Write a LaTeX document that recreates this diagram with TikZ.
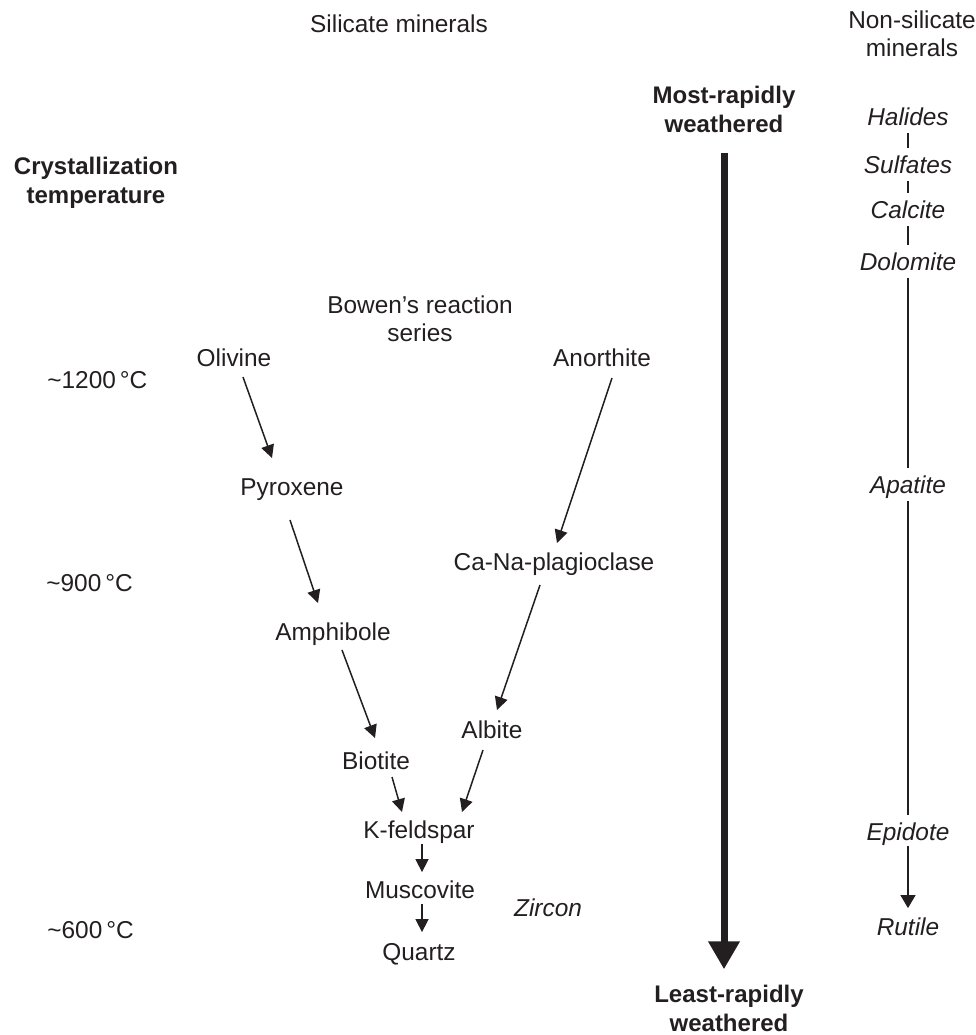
\documentclass[tikz,border=0pt]{standalone}
\usepackage{fontspec}
\setmainfont{Liberation Sans}
\usetikzlibrary{arrows.meta, calc, positioning}
\definecolor{ink}{RGB}{35,31,32}

\begin{document}
\begin{tikzpicture}[
    x=0.5pt, y=-0.5pt,
    every node/.style={text=ink, font=\fontsize{12.2}{14}\selectfont},
    mineral/.style={inner sep=0pt, text height=9pt, text depth=2.5pt},
    nonsil/.style={mineral, font=\fontsize{12.2}{14}\selectfont\itshape},
    heading/.style={align=center, inner sep=0pt},
    rate/.style={heading, font=\fontsize{12}{14.5}\selectfont\bfseries},
    temp/.style={mineral, anchor=west},
    arr/.style={draw=ink, line width=0.75pt, -{Triangle[length=6.5pt, width=6.5pt]}},
    link/.style={draw=ink, line width=0.55pt, shorten <=1pt, shorten >=3.5pt},
    bigarr/.style={draw=ink, line width=3.5pt, -{Triangle[length=14pt, width=15pt]}}
]
    \useasboundingbox (0,0) rectangle (976,1035);

    %% HEADINGS
    \node (silicate) at (399,24) {Silicate minerals};
    \node [heading] (nonsilicate) at (912,34) {Non-silicate\\minerals};
    \node [rate] (mostrapid) at (724,109) {Most-rapidly\\weathered};
    \node [rate] (leastrapid) at (729,1008) {Least-rapidly\\weathered};
    \node [rate] (crystemp) at (96,183) {Crystallization\\temperature};
    \node [heading] (bowen) at (420,319) {Bowen’s reaction\\series};

    % Temperatures
    \node [temp] (t1200) at (47,382) {\textasciitilde1200\,°C};
    \node [temp] (t900) at (46,585) {\textasciitilde900\,°C};
    \node [temp] (t600) at (47,932) {\textasciitilde600\,°C};

    %% BOWEN'S REACTION SERIES
    \node [mineral] (olivine) at (234,360) {Olivine};
    \node [mineral] (pyroxene) at (292,489) {Pyroxene};
    \node [mineral] (amphibole) at (333,634) {Amphibole};
    \node [mineral] (biotite) at (376,763) {Biotite};
    \node [mineral] (anorthite) at (602,360) {Anorthite};
    \node [mineral] (plagioclase) at (554,564) {Ca-Na-plagioclase};
    \node [mineral] (albite) at (492,732) {Albite};
    \node [mineral] (kfeldspar) at (419,832) {K-feldspar};
    \node [mineral] (muscovite) at (420,892) {Muscovite};
    \node [mineral] (quartz) at (419,954) {Quartz};
    \node [nonsil] (zircon) at (548,910) {Zircon};

    % Discontinuous branch
    \draw [arr] ($(olivine)+(9,17)$) -- ($(pyroxene)+(-20,-31)$);
    \draw [arr] ($(pyroxene)+(-2,31)$) -- ($(amphibole)+(-15,-31)$);
    \draw [arr] ($(amphibole)+(9,16)$) -- ($(biotite)+(-1,-25)$);
    \draw [arr] ($(biotite)+(16,14)$) -- ($(kfeldspar)+(-17,-20)$);

    % Continuous branch
    \draw [arr] ($(anorthite)+(10,18)$) -- ($(plagioclase)+(3,-21)$);
    \draw [arr] ($(plagioclase)+(-14,21)$) -- ($(albite)+(5,-22)$);
    \draw [arr] ($(albite)+(-9,18)$) -- ($(kfeldspar)+(43,-20)$);

    % Common tail
    \draw [arr, shorten >=4pt] ([xshift=1.5pt]kfeldspar.south) -- ([xshift=1pt]muscovite.north);
    \draw [arr, shorten >=5pt] ([xshift=1pt]muscovite.south) -- ([xshift=1.5pt]quartz.north);

    %% WEATHERING
    \draw [bigarr, shorten <=10pt, shorten >=7.5pt] (mostrapid.south) -- (mostrapid.south |- leastrapid.north);

    %% NON-SILICATE MINERALS
    \node [nonsil] (halides) at (908,119) {Halides};
    \node [nonsil] (sulfates) at (908,167) {Sulfates};
    \node [nonsil] (calcite) at (908,212) {Calcite};
    \node [nonsil] (dolomite) at (908,264) {Dolomite};
    \node [nonsil] (apatite) at (908,487) {Apatite};
    \node [nonsil] (epidote) at (908,834) {Epidote};
    \node [nonsil] (rutile) at (908,929) {Rutile};

    \draw [link] (halides) -- (sulfates);
    \draw [link] (sulfates) -- (calcite);
    \draw [link] (calcite) -- (dolomite);
    \draw [link] (dolomite) -- (apatite);
    \draw [link] (apatite) -- (epidote);
    \draw [link, shorten <=0pt, shorten >=4.5pt, -{Triangle[length=6.5pt, width=7.5pt]}] (epidote) -- (rutile);

\end{tikzpicture}
\end{document}
